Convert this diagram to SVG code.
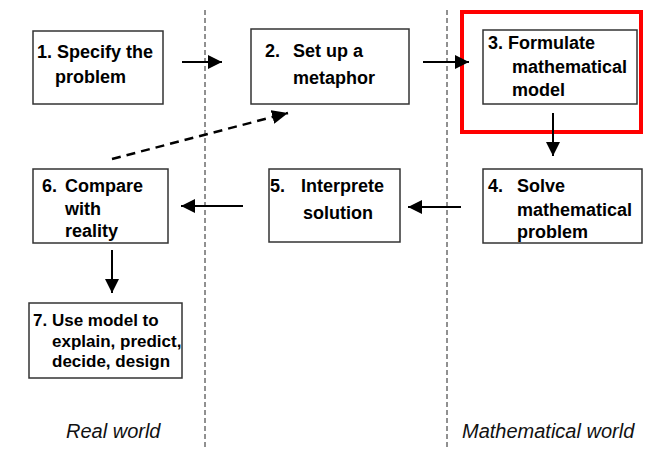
<svg xmlns="http://www.w3.org/2000/svg" width="648" height="449" viewBox="0 0 648 449">
<style>
.box{fill:#fff;stroke:#333;stroke-width:1.5}
.t{font-family:"Liberation Sans",Arial,Helvetica,sans-serif;font-weight:bold;font-size:18px;fill:#000}
.t7{font-size:17px}
.lbl{font-family:"Liberation Sans",Arial,Helvetica,sans-serif;font-style:italic;font-size:20px;fill:#111}
.arr{stroke:#000;stroke-width:2;fill:none;marker-end:url(#ah)}
.dash{stroke:#000;stroke-width:2.5;fill:none;stroke-dasharray:9,6;marker-end:url(#ah2)}
.sep{stroke:#222;stroke-width:1;stroke-dasharray:5,3;fill:none}
</style>
<defs>
<marker id="ah" markerUnits="userSpaceOnUse" markerWidth="15" markerHeight="14" refX="14" refY="7" orient="auto">
<path d="M0,0 L14,7 L0,14 z" fill="#000"/>
</marker>
<marker id="ah2" markerUnits="userSpaceOnUse" markerWidth="17" markerHeight="14" refX="16" refY="7" orient="auto">
<path d="M0,0 L16,7 L0,14 z" fill="#000"/>
</marker>
</defs>
<rect width="648" height="449" fill="#fff"/>
<g id="separators">
<line class="sep" x1="205" y1="10" x2="205" y2="449"/>
<line class="sep" x1="447" y1="10" x2="447" y2="449"/>
</g>
<g id="highlight">
<rect x="462" y="12" width="179" height="120" fill="none" stroke="#f00" stroke-width="4"/>
</g>
<g id="connectors">
<line class="arr" x1="182" y1="62" x2="222" y2="62"/>
<line class="arr" x1="423" y1="62" x2="469" y2="62"/>
<line class="arr" x1="553" y1="113" x2="553" y2="156"/>
<line class="arr" x1="461" y1="207" x2="408" y2="207"/>
<line class="arr" x1="243" y1="206" x2="181" y2="206"/>
<line class="arr" x1="112" y1="250" x2="112" y2="293"/>
<line class="dash" x1="112" y1="159" x2="288" y2="113"/>
</g>
<g id="n1">
<rect class="box" x="33" y="31" width="130" height="73"/>
<text class="t" x="37" y="58">1. Specify the</text>
<text class="t" x="55" y="83">problem</text>
</g>
<g id="n2">
<rect class="box" x="251" y="29" width="158" height="75"/>
<text class="t" x="265" y="57">2.</text>
<text class="t" x="293" y="57">Set up a</text>
<text class="t" x="293" y="84">metaphor</text>
</g>
<g id="n3">
<rect class="box" x="483" y="30" width="154" height="74"/>
<text class="t" x="488" y="49">3. Formulate</text>
<text class="t" x="512" y="73">mathematical</text>
<text class="t" x="512" y="96">model</text>
</g>
<g id="n4">
<rect class="box" x="483" y="169" width="159" height="74"/>
<text class="t" x="488" y="192">4.</text>
<text class="t" x="517" y="192">Solve</text>
<text class="t" x="517" y="216">mathematical</text>
<text class="t" x="517" y="238">problem</text>
</g>
<g id="n5">
<rect class="box" x="269" y="169" width="131" height="73"/>
<text class="t" x="270" y="192">5.</text>
<text class="t" x="301" y="192">Interprete</text>
<text class="t" x="303" y="219">solution</text>
</g>
<g id="n6">
<rect class="box" x="33" y="169" width="135" height="74"/>
<text class="t" x="42" y="192">6.</text>
<text class="t" x="65" y="192">Compare</text>
<text class="t" x="65" y="215">with</text>
<text class="t" x="65" y="237">reality</text>
</g>
<g id="n7">
<rect class="box" x="29" y="303" width="153" height="75"/>
<text class="t t7" x="33" y="326">7. Use model to</text>
<text class="t t7" x="52" y="347">explain, predict,</text>
<text class="t t7" x="52" y="367">decide, design</text>
</g>
<g id="labels">
<text class="lbl" x="66" y="438">Real world</text>
<text class="lbl" x="462" y="438">Mathematical world</text>
</g>
</svg>
